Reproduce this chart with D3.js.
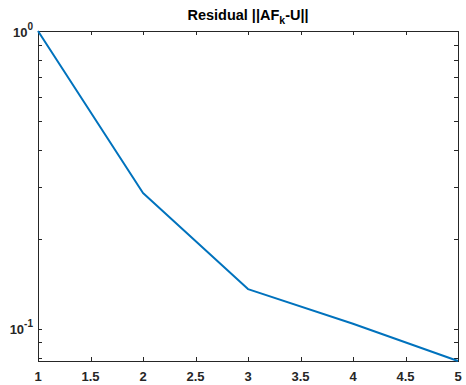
<!DOCTYPE html>
<html>
<head>
<meta charset="utf-8">
<script src="https://cdn.jsdelivr.net/npm/d3@7"></script>
<style>
  body { margin: 0; background: #fff; }
  svg { display: block; font-family: 'Liberation Sans', Arial, sans-serif; }
</style>
</head>
<body>
<script>
// iteration number and residual norm
const iterations = [1, 2, 3, 4, 5]
const residuals = [1.0, 0.286, 0.136, 0.104, 0.078]
const xTicks = [1, 1.5, 2, 2.5, 3, 3.5, 4, 4.5, 5]
const yMajor = [0.1, 1]
const yMinor = [0.08, 0.09, 0.2, 0.3, 0.4, 0.5, 0.6, 0.7, 0.8, 0.9]

const width = 466, height = 385
const margin = {top: 31, right: 8, bottom: 24, left: 38}
const axisColor = '#262626'
const tickLen = 4

const svg = d3.select('body').append('svg')
  .attr('width', width)
  .attr('height', height)

const x = d3.scaleLinear()
  .domain([1, 5])
  .range([margin.left, width - margin.right])

const y = d3.scaleLog()
  .domain([0.078, 1])
  .range([height - margin.bottom, margin.top])

const x0 = x.range()[0], x1 = x.range()[1]
const yb = y.range()[0], yt = y.range()[1]

// box
svg.append('rect')
  .attr('x', x0 + 0.5).attr('y', yt + 0.5)
  .attr('width', x1 - x0).attr('height', yb - yt)
  .attr('fill', 'none')
  .attr('stroke', axisColor)
  .attr('stroke-width', 1)

const ticks = svg.append('g').attr('stroke', axisColor).attr('stroke-width', 1)

// x ticks, bottom and top, pointing in
xTicks.forEach(v => {
  const px = Math.round(x(v)) + 0.5
  ticks.append('line').attr('x1', px).attr('x2', px).attr('y1', yb).attr('y2', yb - tickLen)
  ticks.append('line').attr('x1', px).attr('x2', px).attr('y1', yt).attr('y2', yt + tickLen)
})

// y ticks, left and right
yMajor.concat(yMinor).forEach(v => {
  const py = Math.round(y(v)) + 0.5
  ticks.append('line').attr('x1', x0).attr('x2', x0 + tickLen).attr('y1', py).attr('y2', py)
  ticks.append('line').attr('x1', x1).attr('x2', x1 - tickLen).attr('y1', py).attr('y2', py)
})

// x tick labels
svg.append('g')
  .selectAll('text')
  .data(xTicks)
  .join('text')
    .attr('x', d => x(d))
    .attr('y', yb + 19.5)
    .attr('text-anchor', 'middle')
    .attr('font-size', 13)
    .attr('font-weight', 'bold')
    .attr('fill', axisColor)
    .text(d => d3.format('')(d))

// y tick labels 10^n
const ylab = svg.append('g')
  .selectAll('text')
  .data(yMajor)
  .join('text')
    .attr('x', x0 - 5)
    .attr('y', d => y(d) + 5.5)
    .attr('text-anchor', 'end')
    .attr('font-size', 13)
    .attr('font-weight', 'bold')
    .attr('fill', axisColor)

ylab.append('tspan').text('10')
ylab.append('tspan')
  .attr('dy', -7)
  .attr('font-size', 10)
  .text(d => Math.round(Math.log10(d)))

// title
const title = svg.append('text')
  .attr('x', (x0 + x1) / 2)
  .attr('y', yt - 11)
  .attr('text-anchor', 'middle')
  .attr('font-size', 14.5)
  .attr('font-weight', 'bold')
  .attr('fill', '#000')

title.append('tspan').text('Residual ||AF')
title.append('tspan').attr('dy', 4).attr('font-size', 10.5).text('k')
title.append('tspan').attr('dy', -4).text('-U||')

// residual line
const line = d3.line()
  .x(d => x(d[0]))
  .y(d => y(d[1]))

svg.append('path')
  .datum(d3.zip(iterations, residuals))
  .attr('d', line)
  .attr('fill', 'none')
  .attr('stroke', '#0072BD')
  .attr('stroke-width', 2)
  .attr('stroke-linejoin', 'round')
</script>
</body>
</html>
